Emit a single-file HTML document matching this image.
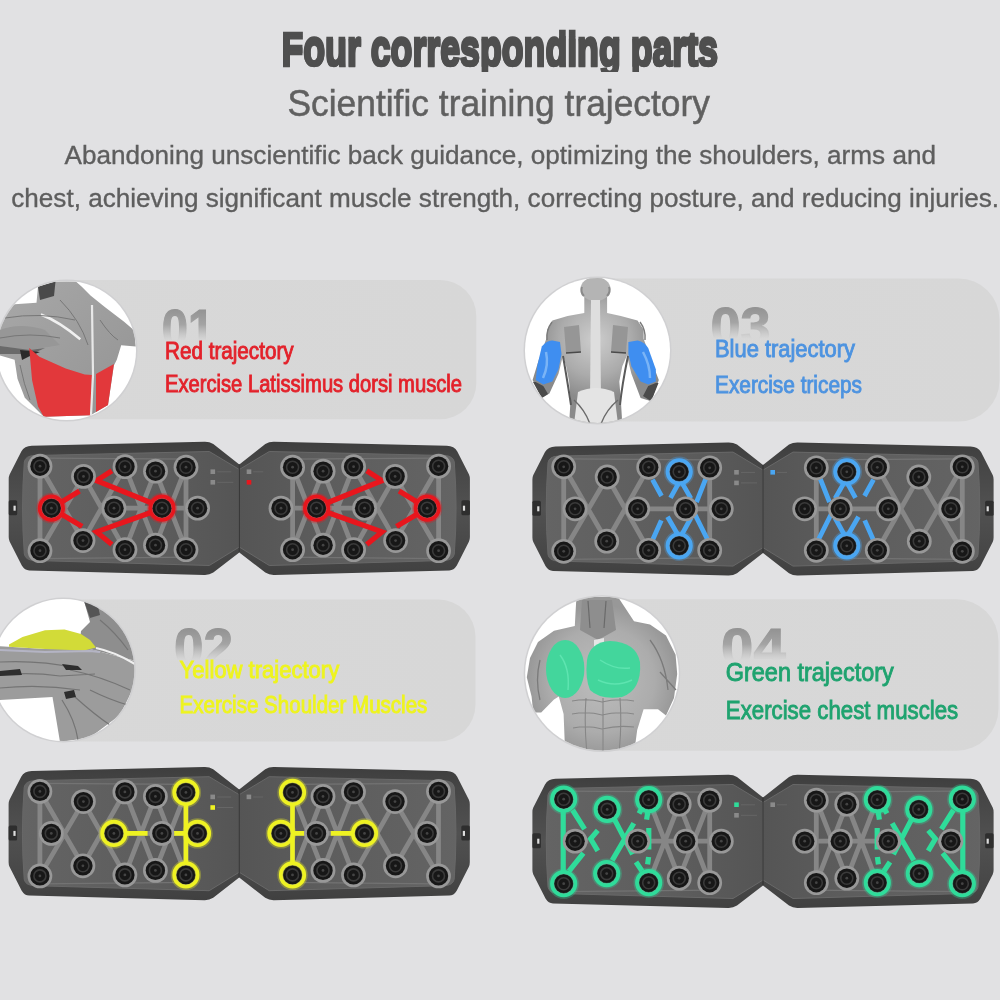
<!DOCTYPE html>
<html><head><meta charset="utf-8"><style>
html,body{margin:0;padding:0;background:#e1e1e3;}
body{width:1000px;height:1000px;overflow:hidden;}
svg{display:block;font-family:"Liberation Sans",sans-serif;filter:blur(0.6px);}
</style></head><body>
<svg width="1000" height="1000" viewBox="0 0 1000 1000">

<defs>
<linearGradient id="pillg" x1="0" y1="0" x2="1" y2="0">
  <stop offset="0" stop-color="#d8d8d8"/><stop offset="1" stop-color="#d7d7d7"/>
</linearGradient>
<linearGradient id="innerg" gradientUnits="userSpaceOnUse" x1="-220" y1="0" x2="0" y2="0">
  <stop offset="0" stop-color="#646464"/><stop offset="0.6" stop-color="#5d5d5d"/><stop offset="1" stop-color="#555555"/>
</linearGradient>
<linearGradient id="rimg" gradientUnits="userSpaceOnUse" x1="0" y1="-67" x2="0" y2="67">
  <stop offset="0" stop-color="#3e3e3e"/><stop offset="0.15" stop-color="#454545"/><stop offset="0.5" stop-color="#515151"/><stop offset="0.85" stop-color="#464646"/><stop offset="1" stop-color="#404040"/>
</linearGradient>
<linearGradient id="musg" x1="0" y1="0" x2="1" y2="1">
  <stop offset="0" stop-color="#a8a8a8"/><stop offset="1" stop-color="#939393"/>
</linearGradient>
<linearGradient id="musg3" x1="0" y1="0" x2="0" y2="1">
  <stop offset="0" stop-color="#b8b8b8"/><stop offset="1" stop-color="#9a9a9a"/>
</linearGradient>
<radialGradient id="torso3" cx="595" cy="340" r="60" gradientUnits="userSpaceOnUse">
  <stop offset="0" stop-color="#cdcdcd"/><stop offset="0.6" stop-color="#ababab"/><stop offset="1" stop-color="#8a8a8a"/>
</radialGradient>
<radialGradient id="torso4" cx="602" cy="680" r="75" gradientUnits="userSpaceOnUse">
  <stop offset="0" stop-color="#bdbdbd"/><stop offset="0.7" stop-color="#acacac"/><stop offset="1" stop-color="#989898"/>
</radialGradient>
<linearGradient id="numg" x1="0" y1="0" x2="0" y2="1">
  <stop offset="0" stop-color="#868686"/><stop offset="0.45" stop-color="#a4a4a4"/><stop offset="0.72" stop-color="#d8d8d8" stop-opacity="0.6"/><stop offset="0.85" stop-color="#dadada" stop-opacity="0"/>
</linearGradient>
</defs>

<rect width="1000" height="1000" fill="#e1e1e3"/>
<clipPath id="tA"><rect x="0" y="0" width="1000" height="72"/></clipPath>
<clipPath id="tB"><rect x="0" y="36" width="1000" height="30.8"/></clipPath>
<g clip-path="url(#tA)"><text x="281.5" y="66.3" textLength="436.5" lengthAdjust="spacingAndGlyphs" font-size="47.5" fill="#4f4f4f" font-weight="bold" stroke="#4f4f4f" stroke-width="2.3">Four corresponding parts</text></g>
<g clip-path="url(#tB)"><g transform="translate(0,66.3) scale(1,1.12) translate(0,-66.3)"><text x="281.5" y="66.3" textLength="436.5" lengthAdjust="spacingAndGlyphs" font-size="47.5" fill="#4f4f4f" font-weight="bold" stroke="#4f4f4f" stroke-width="2.3">Four corresponding parts</text></g></g>
<text x="287.5" y="116.3" textLength="422.5" lengthAdjust="spacingAndGlyphs" font-size="37.5" fill="#606060" font-weight="normal" stroke="#606060" stroke-width="0.5">Scientific training trajectory</text>
<text x="64.5" y="164.4" textLength="871.5" lengthAdjust="spacingAndGlyphs" font-size="26.6" fill="#5e5e5e" font-weight="normal" stroke="#5e5e5e" stroke-width="0.35">Abandoning unscientific back guidance, optimizing the shoulders, arms and</text>
<text x="11.3" y="207" textLength="987.7" lengthAdjust="spacingAndGlyphs" font-size="26.6" fill="#5e5e5e" font-weight="normal" stroke="#5e5e5e" stroke-width="0.35">chest, achieving significant muscle strength, correcting posture, and reducing injuries.</text>
<rect x="40" y="280" width="436.3" height="139.2" rx="36" ry="36" fill="url(#pillg)"/>
<rect x="560" y="278.4" width="439.5" height="143.20000000000005" rx="41" ry="41" fill="url(#pillg)"/>
<rect x="40" y="599.6" width="435.5" height="142.0" rx="37" ry="37" fill="url(#pillg)"/>
<rect x="560" y="599.2" width="438.5" height="151.5999999999999" rx="42" ry="42" fill="url(#pillg)"/>
<clipPath id="cc1"><circle cx="66.5" cy="350.5" r="69.5"/></clipPath><circle cx="66.5" cy="350.5" r="71.0" fill="#d0d0d2"/><circle cx="66.5" cy="350.5" r="69.5" fill="#ffffff"/><g clip-path="url(#cc1)">
<path d="M0,307.2 L14.6,304.3 L36.5,302.8 L38,286.8 L55.5,281.6 L75.9,281.6 L81.8,286.8 L90.5,295.5 L105.1,307.2 L124.1,321.8 L134.3,330.6 L135.8,346.6 L121.2,345.2 L116.8,359.8 L113.9,365.6 L108,405 L90.5,415.2 L43.8,416.7 L33.6,406.5 L24.8,397.7 L17.5,378.7 L14.6,359.8 L0,355.4 Z" fill="url(#musg)"/>
<path d="M38,286.8 L55.5,281.6 L54,296 L40,300 Z" fill="#4a4a4a"/>
<path d="M0,330 Q20,322 45,330 L60,345 L30,350 L0,346 Z" fill="#979797"/>
<path d="M0,346 L30,350 L45,348 L32,354 L0,354 Z" fill="#6a6a6a"/>
<path d="M20,350 L40,352 L30,356 L22,360 Z" fill="#2a2a2a"/>
<path d="M29.2,348.1 L39.4,356.8 L65.7,368.5 L84.7,374.4 L92,375 L90.5,415.2 L43.8,416.7 L38,406.5 L32.1,380.2 Z" fill="#e2383b"/>
<path d="M96,374 L113.9,364.1 L108,405 L96,412 Z" fill="#e2383b"/>
<path d="M92,305 L93,375 L91,415" stroke="#e8e8e8" stroke-width="2.2" fill="none"/>
<path d="M40.9,314.5 Q60,322 80.3,339.3" stroke="#f0f0f0" stroke-width="2.5" fill="none"/>
<path d="M5,318 Q40,312 75,320 M0,338 Q30,332 60,338 M60,300 Q80,320 88,345 M100,320 Q110,335 118,340 M20,365 Q24,385 30,400" stroke="#777" stroke-width="1" fill="none"/>
</g>
<clipPath id="cc3"><circle cx="597.5" cy="350.5" r="72.5"/></clipPath><circle cx="597.5" cy="350.5" r="74.0" fill="#d0d0d2"/><circle cx="597.5" cy="350.5" r="72.5" fill="#ffffff"/><g clip-path="url(#cc3)">
<path d="M584.3,296 L584.3,313 L567.6,316 L552.4,320.6 L547.1,329.7 L546.3,338.8 L538.7,360.1 L532.6,379.9 L541.8,398.1 L549.4,393.6 L558.5,373.8 L563,355.6 L566.1,366.2 L569.1,381.4 L570.6,399.6 L569.1,424 L622.3,424 L620.8,399.6 L619.3,381.4 L622.3,366.2 L626.9,355.6 L631.4,373.8 L640.6,398.1 L651.2,401.2 L658.8,379.9 L651.2,360.1 L643.6,338.8 L643.6,329.7 L637.5,320.6 L620.8,316 L607.1,313 L607.1,296 Z" fill="url(#torso3)"/>
<ellipse cx="595.5" cy="289" rx="15" ry="12" fill="#b4b4b4"/>
<path d="M582,287 Q580,292 584,296 M609,287 Q611,292 607,296" stroke="#8a8a8a" stroke-width="2" fill="none"/>
<path d="M591,300 L600,300 L601,400 L590,400 Z" fill="#dedede"/>
<path d="M578,392 Q596,384 614,392 L618,424 L574,424 Z" fill="#e4e4e4"/>
<path d="M564,327 L579,325 L581,352 L566,353 Z M628,327 L613,325 L611,352 L626,353 Z" fill="#969696"/>
<path d="M566,353 L581,352 M626,353 L611,352" stroke="#4a4a4a" stroke-width="1.6"/>
<path d="M563,356 Q568,385 571,405 M628,356 Q622,385 620,405" stroke="#5a5a5a" stroke-width="2" fill="none"/>
<path d="M574,400 Q585,410 590,424 M618,400 Q606,410 601,424" stroke="#6a6a6a" stroke-width="1.4" fill="none"/>
<path d="M552,322 Q546,330 547,340 M640,322 Q646,330 645,340" stroke="#7a7a7a" stroke-width="1.4" fill="none"/>
<path d="M541.8,346.4 Q547,340 552.4,340.4 L560,341.9 L561.5,354 L558.5,369.2 L552.4,381.4 L543.3,384.4 L535.7,379.9 L537.2,366.2 Z" fill="#3f8ef0"/>
<path d="M628.4,341.9 L637.5,340.4 Q645,342 648.2,348 L655.8,369.2 L655.8,381.4 L648.2,384.4 L640.6,381.4 L631.4,366.2 L628.4,354 Z" fill="#3f8ef0"/>
<path d="M546,352 Q549,365 543,378 M643,352 Q650,365 650,378" stroke="#7ab4f6" stroke-width="2.5" fill="none"/>
<path d="M535.7,382 L543.3,386 L548,394 L541.8,398.1 L533,382 Z M655.8,383 L648.2,386 L643,396 L651.2,401.2 L658.5,383 Z" fill="#4a4a4a"/>
</g>
<clipPath id="cc2"><circle cx="63.4" cy="670" r="71"/></clipPath><circle cx="63.4" cy="670" r="72.5" fill="#d0d0d2"/><circle cx="63.4" cy="670" r="71" fill="#ffffff"/><g clip-path="url(#cc2)">
<path d="M-5,646 L45,649 L90,649 L135,661 L140,685 L135,685 L120,715 L90,737.6 L60,742 L52.5,697 L0,700 L-5,700 Z" fill="#9c9c9c"/>
<path d="M81,631 L90,622 L84,601 L97.5,604 L120,617.5 L132,640 L136,661 L90,649 L80,640 Z" fill="#8e8e8e"/>
<path d="M84,601 L97.5,604 L100,615 L90,618 Z" fill="#555"/>
<path d="M9,644.5 L22.5,637 L45,630.3 L64.5,629.5 L81,634 L90,640 L96,647.5 L84,650.5 L45,649 L9,646.8 Z" fill="#d2db38"/>
<path d="M0,650 L45,652 L90,651 L100,652" stroke="#b4b4c4" stroke-width="2" fill="none"/>
<path d="M96,648 Q115,652 135,664" stroke="#efefef" stroke-width="2.2" fill="none"/>
<path d="M0,662 Q40,660 75,668 M0,675 Q30,672 60,676 L95,674 M0,688 Q40,684 80,690 M70,670 Q100,676 130,690 M62,700 Q75,720 78,740 M75,697 Q95,715 110,725 M90,690 Q110,700 128,705 M100,620 Q115,632 128,650" stroke="#747474" stroke-width="1.2" fill="none"/>
<path d="M62,664 L78,666 L82,670 L66,670 Z M64,692 L74,690 L76,697 L66,699 Z M0,671 L20,669 L22,675 L0,676 Z" fill="#2e2e2e"/>
</g>
<clipPath id="cc4"><circle cx="602" cy="673.6" r="76.8"/></clipPath><circle cx="602" cy="673.6" r="78.3" fill="#d0d0d2"/><circle cx="602" cy="673.6" r="76.8" fill="#ffffff"/><g clip-path="url(#cc4)">
<path fill="url(#torso4)" d="M576.4,597 L618,597 L634,621.2 L650,624.4 L666,635.6 L675.6,654.8 L677.2,674 L674,698 L666,715.6 L658,709.2 L643.6,709.2 L637.2,730 L634,754 L565.2,754 L563.6,714 L558.8,696.4 L554,699.6 L541.2,712.4 L533.2,712.4 L531.6,696.4 L526.8,677.2 L530,658 L538,642 L554,630.8 L574.8,626 Z"/>
<path d="M582,600 L612,600 L616,630 L598,640 L580,630 Z" fill="#8e8e8e"/>
<path d="M588,601 L590,628 M606,601 L604,628" stroke="#6a6a6a" stroke-width="1.2"/>
<path d="M572,701 Q588,698 602,702 Q618,698 634,701 M572,714 Q588,711 602,715 Q618,711 634,714 M573,728 Q588,725 602,729 Q618,725 634,727 M603,698 L603,754 M586,698 Q584,725 587,754 M620,698 Q622,725 619,754" stroke="#878787" stroke-width="1.1" fill="none"/>
<path d="M650,640 Q665,660 668,690 M660,672 L676,690 M540,660 Q535,680 540,700" stroke="#7a7a7a" stroke-width="1.3" fill="none"/>
<path d="M594,640 L604,638 L604,690 L594,690 Z" fill="#e6e6e6"/>
<ellipse cx="565.2" cy="668.9" rx="19.2" ry="29" fill="#43d69c"/>
<path d="M587,660 Q590,642 610,641 Q636,642 640,662 Q642,690 622,697 Q600,700 590,690 Q585,678 587,660 Z" fill="#43d69c"/>
<path d="M560,655 Q570,668 568,690 M600,660 Q615,670 630,668 M598,680 Q615,688 632,680" stroke="#5ee4b0" stroke-width="1.5" fill="none"/>
</g>
<text x="161.7" y="346.7" textLength="52.5" lengthAdjust="spacingAndGlyphs" font-size="54" font-weight="bold" fill="url(#numg)" stroke="url(#numg)" stroke-width="1.2">01</text>
<text x="165" y="358.5" textLength="128.6" lengthAdjust="spacingAndGlyphs" font-size="23" fill="#e3222b" font-weight="normal" stroke="#e3222b" stroke-width="0.9">Red trajectory</text>
<text x="165" y="391.5" textLength="297" lengthAdjust="spacingAndGlyphs" font-size="23" fill="#e3222b" font-weight="normal" stroke="#e3222b" stroke-width="0.9">Exercise Latissimus dorsi muscle</text>
<text x="710.5" y="344.7" textLength="60" lengthAdjust="spacingAndGlyphs" font-size="54" font-weight="bold" fill="url(#numg)" stroke="url(#numg)" stroke-width="1.2">03</text>
<text x="715" y="356.5" textLength="140" lengthAdjust="spacingAndGlyphs" font-size="23.5" fill="#4d93e0" font-weight="normal" stroke="#4d93e0" stroke-width="0.9">Blue trajectory</text>
<text x="715" y="392.5" textLength="147" lengthAdjust="spacingAndGlyphs" font-size="23.5" fill="#4d93e0" font-weight="normal" stroke="#4d93e0" stroke-width="0.9">Exercise triceps</text>
<text x="173.9" y="666.3" textLength="59" lengthAdjust="spacingAndGlyphs" font-size="54" font-weight="bold" fill="url(#numg)" stroke="url(#numg)" stroke-width="1.2">02</text>
<text x="179.6" y="678" textLength="159.6" lengthAdjust="spacingAndGlyphs" font-size="23.5" fill="#eef41e" font-weight="normal" stroke="#eef41e" stroke-width="0.9">Yellow trajectory</text>
<text x="179.6" y="713" textLength="247.8" lengthAdjust="spacingAndGlyphs" font-size="23.5" fill="#eef41e" font-weight="normal" stroke="#eef41e" stroke-width="0.9">Exercise Shoulder Muscles</text>
<text x="721.1" y="666.3" textLength="64.6" lengthAdjust="spacingAndGlyphs" font-size="54" font-weight="bold" fill="url(#numg)" stroke="url(#numg)" stroke-width="1.2">04</text>
<text x="725.8" y="680.8" textLength="168" lengthAdjust="spacingAndGlyphs" font-size="25.5" fill="#1fa36f" font-weight="normal" stroke="#1fa36f" stroke-width="0.9">Green trajectory</text>
<text x="725.8" y="718.6" textLength="232.4" lengthAdjust="spacingAndGlyphs" font-size="25.5" fill="#1fa36f" font-weight="normal" stroke="#1fa36f" stroke-width="0.9">Exercise chest muscles</text>
<g transform="translate(239.3,508.2)"><g><path d="M0,-43.8 L-26,-64.2 Q-30,-66.6 -35,-66.4 L-207.5,-62.4 Q-215,-62.2 -218,-56.7 L-229.7,-33.7 Q-230.6,-31.7 -230.6,-29.2 L-230.6,28.8 Q-230.6,31.3 -229.7,33.3 L-217.5,57.3 Q-214.5,62.2 -210,62.2 L-35,66.8 Q-30,67.0 -26,64.4 L0,44.2 Z" fill="url(#rimg)"/>
<path d="M0,-38.7 L-30,-56.7 L-205,-52.7 Q-214,-52.2 -215,-46.2 Q-218.5,-0.2 -215,45.8 Q-214,51.8 -205,52.3 L-30,57.3 L0,38.8 Z" fill="url(#innerg)" stroke="#686868" stroke-width="1"/>
<path d="M-199.3,-50 L-48.3,-49 M-199.3,50.5 L-48.3,49" stroke="#737373" stroke-width="1.3" fill="none"/>
<path d="M-199.3,-42.0L-199.3,42.5M-199.3,-42.0L-156.3,32.4M-199.3,42.5L-155.8,-31.8M-155.8,-31.8L-114.3,41.5M-156.3,32.4L-114.3,-41.5M-114.3,-41.5L-83.8,37.0M-114.3,41.5L-83.8,-37.0M-83.8,-37.0L-53.3,41.5M-83.8,37.0L-53.3,-41.0M-53.3,-41.0L-53.3,41.5M-187.9,0L-174.7,0M-137.8,0L-41.7,0" stroke="#868686" stroke-width="4.8" fill="none"/>
<rect x="-230.6" y="-8" width="8.5" height="15" rx="1.5" fill="#2e2e2e"/><rect x="-225.8" y="-2.5" width="2.2" height="5" fill="#ddd"/></g>
<g transform="scale(-1,1)"><path d="M0,-43.8 L-26,-64.2 Q-30,-66.6 -35,-66.4 L-207.5,-62.4 Q-215,-62.2 -218,-56.7 L-229.7,-33.7 Q-230.6,-31.7 -230.6,-29.2 L-230.6,28.8 Q-230.6,31.3 -229.7,33.3 L-217.5,57.3 Q-214.5,62.2 -210,62.2 L-35,66.8 Q-30,67.0 -26,64.4 L0,44.2 Z" fill="url(#rimg)"/>
<path d="M0,-38.7 L-30,-56.7 L-205,-52.7 Q-214,-52.2 -215,-46.2 Q-218.5,-0.2 -215,45.8 Q-214,51.8 -205,52.3 L-30,57.3 L0,38.8 Z" fill="url(#innerg)" stroke="#686868" stroke-width="1"/>
<path d="M-199.3,-50 L-48.3,-49 M-199.3,50.5 L-48.3,49" stroke="#737373" stroke-width="1.3" fill="none"/>
<path d="M-199.3,-42.0L-199.3,42.5M-199.3,-42.0L-156.3,32.4M-199.3,42.5L-155.8,-31.8M-155.8,-31.8L-114.3,41.5M-156.3,32.4L-114.3,-41.5M-114.3,-41.5L-83.8,37.0M-114.3,41.5L-83.8,-37.0M-83.8,-37.0L-53.3,41.5M-83.8,37.0L-53.3,-41.0M-53.3,-41.0L-53.3,41.5M-187.9,0L-174.7,0M-137.8,0L-41.7,0" stroke="#868686" stroke-width="4.8" fill="none"/>
<rect x="-230.6" y="-8" width="8.5" height="15" rx="1.5" fill="#2e2e2e"/><rect x="-225.8" y="-2.5" width="2.2" height="5" fill="#ddd"/></g>
<line x1="0" y1="-44" x2="0" y2="44" stroke="#2f2f2f" stroke-width="1"/>
<path d="M-187.9,0.0L-159.8,-17.2M-187.9,0.0L-157.1,18.3M-127.4,-37.5L-142.7,-27.6L-85.1,-4.2M-127.4,36.3L-142.7,23.7L-86.9,3.8" stroke="#e8161d" stroke-width="5.2" fill="none" stroke-linejoin="miter" stroke-linecap="butt"/>
<g transform="scale(-1,1)"><path d="M-187.9,0.0L-159.8,-17.2M-187.9,0.0L-157.1,18.3M-127.4,-37.5L-142.7,-27.6L-85.1,-4.2M-127.4,36.3L-142.7,23.7L-86.9,3.8" stroke="#e8161d" stroke-width="5.2" fill="none" stroke-linejoin="miter" stroke-linecap="butt"/></g>
<g><circle cx="-199.3" cy="-42" r="12.4" fill="#989898"/><circle cx="-199.3" cy="-42" r="9.7" fill="#171717"/><circle cx="-199.3" cy="-42" r="6" fill="none" stroke="#3a3a3a" stroke-width="1.6"/><circle cx="-199.3" cy="-42" r="1.4" fill="#444"/>
<circle cx="-155.8" cy="-31.8" r="12.4" fill="#989898"/><circle cx="-155.8" cy="-31.8" r="9.7" fill="#171717"/><circle cx="-155.8" cy="-31.8" r="6" fill="none" stroke="#3a3a3a" stroke-width="1.6"/><circle cx="-155.8" cy="-31.8" r="1.4" fill="#444"/>
<circle cx="-114.3" cy="-41.5" r="12.4" fill="#989898"/><circle cx="-114.3" cy="-41.5" r="9.7" fill="#171717"/><circle cx="-114.3" cy="-41.5" r="6" fill="none" stroke="#3a3a3a" stroke-width="1.6"/><circle cx="-114.3" cy="-41.5" r="1.4" fill="#444"/>
<circle cx="-83.8" cy="-37" r="12.4" fill="#989898"/><circle cx="-83.8" cy="-37" r="9.7" fill="#171717"/><circle cx="-83.8" cy="-37" r="6" fill="none" stroke="#3a3a3a" stroke-width="1.6"/><circle cx="-83.8" cy="-37" r="1.4" fill="#444"/>
<circle cx="-53.3" cy="-41" r="12.4" fill="#989898"/><circle cx="-53.3" cy="-41" r="9.7" fill="#171717"/><circle cx="-53.3" cy="-41" r="6" fill="none" stroke="#3a3a3a" stroke-width="1.6"/><circle cx="-53.3" cy="-41" r="1.4" fill="#444"/>
<circle cx="-187.9" cy="0" r="12.4" fill="#989898"/><circle cx="-187.9" cy="0" r="9.7" fill="#171717"/><circle cx="-187.9" cy="0" r="6" fill="none" stroke="#3a3a3a" stroke-width="1.6"/><circle cx="-187.9" cy="0" r="1.4" fill="#444"/>
<circle cx="-125.3" cy="0" r="12.4" fill="#989898"/><circle cx="-125.3" cy="0" r="9.7" fill="#171717"/><circle cx="-125.3" cy="0" r="6" fill="none" stroke="#3a3a3a" stroke-width="1.6"/><circle cx="-125.3" cy="0" r="1.4" fill="#444"/>
<circle cx="-77.3" cy="0" r="12.4" fill="#989898"/><circle cx="-77.3" cy="0" r="9.7" fill="#171717"/><circle cx="-77.3" cy="0" r="6" fill="none" stroke="#3a3a3a" stroke-width="1.6"/><circle cx="-77.3" cy="0" r="1.4" fill="#444"/>
<circle cx="-41.7" cy="0" r="12.4" fill="#989898"/><circle cx="-41.7" cy="0" r="9.7" fill="#171717"/><circle cx="-41.7" cy="0" r="6" fill="none" stroke="#3a3a3a" stroke-width="1.6"/><circle cx="-41.7" cy="0" r="1.4" fill="#444"/>
<circle cx="-199.3" cy="42.5" r="12.4" fill="#989898"/><circle cx="-199.3" cy="42.5" r="9.7" fill="#171717"/><circle cx="-199.3" cy="42.5" r="6" fill="none" stroke="#3a3a3a" stroke-width="1.6"/><circle cx="-199.3" cy="42.5" r="1.4" fill="#444"/>
<circle cx="-156.3" cy="32.4" r="12.4" fill="#989898"/><circle cx="-156.3" cy="32.4" r="9.7" fill="#171717"/><circle cx="-156.3" cy="32.4" r="6" fill="none" stroke="#3a3a3a" stroke-width="1.6"/><circle cx="-156.3" cy="32.4" r="1.4" fill="#444"/>
<circle cx="-114.3" cy="41.5" r="12.4" fill="#989898"/><circle cx="-114.3" cy="41.5" r="9.7" fill="#171717"/><circle cx="-114.3" cy="41.5" r="6" fill="none" stroke="#3a3a3a" stroke-width="1.6"/><circle cx="-114.3" cy="41.5" r="1.4" fill="#444"/>
<circle cx="-83.8" cy="37" r="12.4" fill="#989898"/><circle cx="-83.8" cy="37" r="9.7" fill="#171717"/><circle cx="-83.8" cy="37" r="6" fill="none" stroke="#3a3a3a" stroke-width="1.6"/><circle cx="-83.8" cy="37" r="1.4" fill="#444"/>
<circle cx="-53.3" cy="41.5" r="12.4" fill="#989898"/><circle cx="-53.3" cy="41.5" r="9.7" fill="#171717"/><circle cx="-53.3" cy="41.5" r="6" fill="none" stroke="#3a3a3a" stroke-width="1.6"/><circle cx="-53.3" cy="41.5" r="1.4" fill="#444"/></g>
<g transform="scale(-1,1)"><circle cx="-199.3" cy="-42" r="12.4" fill="#989898"/><circle cx="-199.3" cy="-42" r="9.7" fill="#171717"/><circle cx="-199.3" cy="-42" r="6" fill="none" stroke="#3a3a3a" stroke-width="1.6"/><circle cx="-199.3" cy="-42" r="1.4" fill="#444"/>
<circle cx="-155.8" cy="-31.8" r="12.4" fill="#989898"/><circle cx="-155.8" cy="-31.8" r="9.7" fill="#171717"/><circle cx="-155.8" cy="-31.8" r="6" fill="none" stroke="#3a3a3a" stroke-width="1.6"/><circle cx="-155.8" cy="-31.8" r="1.4" fill="#444"/>
<circle cx="-114.3" cy="-41.5" r="12.4" fill="#989898"/><circle cx="-114.3" cy="-41.5" r="9.7" fill="#171717"/><circle cx="-114.3" cy="-41.5" r="6" fill="none" stroke="#3a3a3a" stroke-width="1.6"/><circle cx="-114.3" cy="-41.5" r="1.4" fill="#444"/>
<circle cx="-83.8" cy="-37" r="12.4" fill="#989898"/><circle cx="-83.8" cy="-37" r="9.7" fill="#171717"/><circle cx="-83.8" cy="-37" r="6" fill="none" stroke="#3a3a3a" stroke-width="1.6"/><circle cx="-83.8" cy="-37" r="1.4" fill="#444"/>
<circle cx="-53.3" cy="-41" r="12.4" fill="#989898"/><circle cx="-53.3" cy="-41" r="9.7" fill="#171717"/><circle cx="-53.3" cy="-41" r="6" fill="none" stroke="#3a3a3a" stroke-width="1.6"/><circle cx="-53.3" cy="-41" r="1.4" fill="#444"/>
<circle cx="-187.9" cy="0" r="12.4" fill="#989898"/><circle cx="-187.9" cy="0" r="9.7" fill="#171717"/><circle cx="-187.9" cy="0" r="6" fill="none" stroke="#3a3a3a" stroke-width="1.6"/><circle cx="-187.9" cy="0" r="1.4" fill="#444"/>
<circle cx="-125.3" cy="0" r="12.4" fill="#989898"/><circle cx="-125.3" cy="0" r="9.7" fill="#171717"/><circle cx="-125.3" cy="0" r="6" fill="none" stroke="#3a3a3a" stroke-width="1.6"/><circle cx="-125.3" cy="0" r="1.4" fill="#444"/>
<circle cx="-77.3" cy="0" r="12.4" fill="#989898"/><circle cx="-77.3" cy="0" r="9.7" fill="#171717"/><circle cx="-77.3" cy="0" r="6" fill="none" stroke="#3a3a3a" stroke-width="1.6"/><circle cx="-77.3" cy="0" r="1.4" fill="#444"/>
<circle cx="-41.7" cy="0" r="12.4" fill="#989898"/><circle cx="-41.7" cy="0" r="9.7" fill="#171717"/><circle cx="-41.7" cy="0" r="6" fill="none" stroke="#3a3a3a" stroke-width="1.6"/><circle cx="-41.7" cy="0" r="1.4" fill="#444"/>
<circle cx="-199.3" cy="42.5" r="12.4" fill="#989898"/><circle cx="-199.3" cy="42.5" r="9.7" fill="#171717"/><circle cx="-199.3" cy="42.5" r="6" fill="none" stroke="#3a3a3a" stroke-width="1.6"/><circle cx="-199.3" cy="42.5" r="1.4" fill="#444"/>
<circle cx="-156.3" cy="32.4" r="12.4" fill="#989898"/><circle cx="-156.3" cy="32.4" r="9.7" fill="#171717"/><circle cx="-156.3" cy="32.4" r="6" fill="none" stroke="#3a3a3a" stroke-width="1.6"/><circle cx="-156.3" cy="32.4" r="1.4" fill="#444"/>
<circle cx="-114.3" cy="41.5" r="12.4" fill="#989898"/><circle cx="-114.3" cy="41.5" r="9.7" fill="#171717"/><circle cx="-114.3" cy="41.5" r="6" fill="none" stroke="#3a3a3a" stroke-width="1.6"/><circle cx="-114.3" cy="41.5" r="1.4" fill="#444"/>
<circle cx="-83.8" cy="37" r="12.4" fill="#989898"/><circle cx="-83.8" cy="37" r="9.7" fill="#171717"/><circle cx="-83.8" cy="37" r="6" fill="none" stroke="#3a3a3a" stroke-width="1.6"/><circle cx="-83.8" cy="37" r="1.4" fill="#444"/>
<circle cx="-53.3" cy="41.5" r="12.4" fill="#989898"/><circle cx="-53.3" cy="41.5" r="9.7" fill="#171717"/><circle cx="-53.3" cy="41.5" r="6" fill="none" stroke="#3a3a3a" stroke-width="1.6"/><circle cx="-53.3" cy="41.5" r="1.4" fill="#444"/></g>
<circle cx="-187.9" cy="0" r="12.2" fill="none" stroke="#e8161d" stroke-width="6" stroke-opacity="0.3"/><circle cx="-187.9" cy="0" r="11.8" fill="none" stroke="#e8161d" stroke-width="3.6"/><circle cx="-77.3" cy="0" r="12.2" fill="none" stroke="#e8161d" stroke-width="6" stroke-opacity="0.3"/><circle cx="-77.3" cy="0" r="11.8" fill="none" stroke="#e8161d" stroke-width="3.6"/>
<g transform="scale(-1,1)"><circle cx="-187.9" cy="0" r="12.2" fill="none" stroke="#e8161d" stroke-width="6" stroke-opacity="0.3"/><circle cx="-187.9" cy="0" r="11.8" fill="none" stroke="#e8161d" stroke-width="3.6"/><circle cx="-77.3" cy="0" r="12.2" fill="none" stroke="#e8161d" stroke-width="6" stroke-opacity="0.3"/><circle cx="-77.3" cy="0" r="11.8" fill="none" stroke="#e8161d" stroke-width="3.6"/></g>
<rect x="-28.8" y="-38.8" width="4.6" height="4.6" fill="#8a8a8a"/>
<rect x="-28.8" y="-28.2" width="4.6" height="4.6" fill="#8a8a8a"/>
<line x1="-22" y1="-36.4" x2="-8" y2="-36.4" stroke="#666" stroke-width="1"/>
<line x1="-22" y1="-25.9" x2="-6" y2="-25.9" stroke="#666" stroke-width="1"/>
<rect x="7.4" y="-38.8" width="4.6" height="4.6" fill="#8a8a8a"/>
<line x1="14" y1="-36.4" x2="24" y2="-36.4" stroke="#666" stroke-width="1"/>
<rect x="7.4" y="-28.2" width="4.6" height="4.6" fill="#e8161d"/></g>
<g transform="translate(763,508.8)"><g><path d="M0,-43.8 L-26,-64.2 Q-30,-66.6 -35,-66.4 L-207.5,-62.4 Q-215,-62.2 -218,-56.7 L-229.7,-33.7 Q-230.6,-31.7 -230.6,-29.2 L-230.6,28.8 Q-230.6,31.3 -229.7,33.3 L-217.5,57.3 Q-214.5,62.2 -210,62.2 L-35,66.8 Q-30,67.0 -26,64.4 L0,44.2 Z" fill="url(#rimg)"/>
<path d="M0,-38.7 L-30,-56.7 L-205,-52.7 Q-214,-52.2 -215,-46.2 Q-218.5,-0.2 -215,45.8 Q-214,51.8 -205,52.3 L-30,57.3 L0,38.8 Z" fill="url(#innerg)" stroke="#686868" stroke-width="1"/>
<path d="M-199.3,-50 L-48.3,-49 M-199.3,50.5 L-48.3,49" stroke="#737373" stroke-width="1.3" fill="none"/>
<path d="M-199.3,-42.0L-199.3,42.5M-199.3,-42.0L-156.3,32.4M-199.3,42.5L-155.8,-31.8M-155.8,-31.8L-114.3,41.5M-156.3,32.4L-114.3,-41.5M-53.3,-41.0L-53.3,41.5M-187.9,0L-174.7,0M-137.8,0L-41.7,0" stroke="#868686" stroke-width="4.8" fill="none"/>
<rect x="-230.6" y="-8" width="8.5" height="15" rx="1.5" fill="#2e2e2e"/><rect x="-225.8" y="-2.5" width="2.2" height="5" fill="#ddd"/></g>
<g transform="scale(-1,1)"><path d="M0,-43.8 L-26,-64.2 Q-30,-66.6 -35,-66.4 L-207.5,-62.4 Q-215,-62.2 -218,-56.7 L-229.7,-33.7 Q-230.6,-31.7 -230.6,-29.2 L-230.6,28.8 Q-230.6,31.3 -229.7,33.3 L-217.5,57.3 Q-214.5,62.2 -210,62.2 L-35,66.8 Q-30,67.0 -26,64.4 L0,44.2 Z" fill="url(#rimg)"/>
<path d="M0,-38.7 L-30,-56.7 L-205,-52.7 Q-214,-52.2 -215,-46.2 Q-218.5,-0.2 -215,45.8 Q-214,51.8 -205,52.3 L-30,57.3 L0,38.8 Z" fill="url(#innerg)" stroke="#686868" stroke-width="1"/>
<path d="M-199.3,-50 L-48.3,-49 M-199.3,50.5 L-48.3,49" stroke="#737373" stroke-width="1.3" fill="none"/>
<path d="M-199.3,-42.0L-199.3,42.5M-199.3,-42.0L-156.3,32.4M-199.3,42.5L-155.8,-31.8M-155.8,-31.8L-114.3,41.5M-156.3,32.4L-114.3,-41.5M-53.3,-41.0L-53.3,41.5M-187.9,0L-174.7,0M-137.8,0L-41.7,0" stroke="#868686" stroke-width="4.8" fill="none"/>
<rect x="-230.6" y="-8" width="8.5" height="15" rx="1.5" fill="#2e2e2e"/><rect x="-225.8" y="-2.5" width="2.2" height="5" fill="#ddd"/></g>
<line x1="0" y1="-44" x2="0" y2="44" stroke="#2f2f2f" stroke-width="1"/>
<path d="M-110.5,-29.2L-101.5,-12.8M-92.5,-11.0L-84.1,-26.2M-81.1,-26.2L-72.1,-10.4M-57.3,-29.9L-66.5,-6.7M-110.3,31.0L-101.7,11.6M-95.5,8.0L-85.3,25.6M-81.1,25.6L-72.1,9.2M-68.4,5.0L-55.4,31.0" stroke="#4aa6f2" stroke-width="4.8" fill="none" stroke-linejoin="miter" stroke-linecap="butt"/>
<g transform="scale(-1,1)"><path d="M-110.5,-29.2L-101.5,-12.8M-92.5,-11.0L-84.1,-26.2M-81.1,-26.2L-72.1,-10.4M-57.3,-29.9L-66.5,-6.7M-110.3,31.0L-101.7,11.6M-95.5,8.0L-85.3,25.6M-81.1,25.6L-72.1,9.2M-68.4,5.0L-55.4,31.0" stroke="#4aa6f2" stroke-width="4.8" fill="none" stroke-linejoin="miter" stroke-linecap="butt"/></g>
<g><circle cx="-199.3" cy="-42" r="12.4" fill="#989898"/><circle cx="-199.3" cy="-42" r="9.7" fill="#171717"/><circle cx="-199.3" cy="-42" r="6" fill="none" stroke="#3a3a3a" stroke-width="1.6"/><circle cx="-199.3" cy="-42" r="1.4" fill="#444"/>
<circle cx="-155.8" cy="-31.8" r="12.4" fill="#989898"/><circle cx="-155.8" cy="-31.8" r="9.7" fill="#171717"/><circle cx="-155.8" cy="-31.8" r="6" fill="none" stroke="#3a3a3a" stroke-width="1.6"/><circle cx="-155.8" cy="-31.8" r="1.4" fill="#444"/>
<circle cx="-114.3" cy="-41.5" r="12.4" fill="#989898"/><circle cx="-114.3" cy="-41.5" r="9.7" fill="#171717"/><circle cx="-114.3" cy="-41.5" r="6" fill="none" stroke="#3a3a3a" stroke-width="1.6"/><circle cx="-114.3" cy="-41.5" r="1.4" fill="#444"/>
<circle cx="-83.8" cy="-37" r="12.4" fill="#989898"/><circle cx="-83.8" cy="-37" r="9.7" fill="#171717"/><circle cx="-83.8" cy="-37" r="6" fill="none" stroke="#3a3a3a" stroke-width="1.6"/><circle cx="-83.8" cy="-37" r="1.4" fill="#444"/>
<circle cx="-53.3" cy="-41" r="12.4" fill="#989898"/><circle cx="-53.3" cy="-41" r="9.7" fill="#171717"/><circle cx="-53.3" cy="-41" r="6" fill="none" stroke="#3a3a3a" stroke-width="1.6"/><circle cx="-53.3" cy="-41" r="1.4" fill="#444"/>
<circle cx="-187.9" cy="0" r="12.4" fill="#989898"/><circle cx="-187.9" cy="0" r="9.7" fill="#171717"/><circle cx="-187.9" cy="0" r="6" fill="none" stroke="#3a3a3a" stroke-width="1.6"/><circle cx="-187.9" cy="0" r="1.4" fill="#444"/>
<circle cx="-125.3" cy="0" r="12.4" fill="#989898"/><circle cx="-125.3" cy="0" r="9.7" fill="#171717"/><circle cx="-125.3" cy="0" r="6" fill="none" stroke="#3a3a3a" stroke-width="1.6"/><circle cx="-125.3" cy="0" r="1.4" fill="#444"/>
<circle cx="-77.3" cy="0" r="12.4" fill="#989898"/><circle cx="-77.3" cy="0" r="9.7" fill="#171717"/><circle cx="-77.3" cy="0" r="6" fill="none" stroke="#3a3a3a" stroke-width="1.6"/><circle cx="-77.3" cy="0" r="1.4" fill="#444"/>
<circle cx="-41.7" cy="0" r="12.4" fill="#989898"/><circle cx="-41.7" cy="0" r="9.7" fill="#171717"/><circle cx="-41.7" cy="0" r="6" fill="none" stroke="#3a3a3a" stroke-width="1.6"/><circle cx="-41.7" cy="0" r="1.4" fill="#444"/>
<circle cx="-199.3" cy="42.5" r="12.4" fill="#989898"/><circle cx="-199.3" cy="42.5" r="9.7" fill="#171717"/><circle cx="-199.3" cy="42.5" r="6" fill="none" stroke="#3a3a3a" stroke-width="1.6"/><circle cx="-199.3" cy="42.5" r="1.4" fill="#444"/>
<circle cx="-156.3" cy="32.4" r="12.4" fill="#989898"/><circle cx="-156.3" cy="32.4" r="9.7" fill="#171717"/><circle cx="-156.3" cy="32.4" r="6" fill="none" stroke="#3a3a3a" stroke-width="1.6"/><circle cx="-156.3" cy="32.4" r="1.4" fill="#444"/>
<circle cx="-114.3" cy="41.5" r="12.4" fill="#989898"/><circle cx="-114.3" cy="41.5" r="9.7" fill="#171717"/><circle cx="-114.3" cy="41.5" r="6" fill="none" stroke="#3a3a3a" stroke-width="1.6"/><circle cx="-114.3" cy="41.5" r="1.4" fill="#444"/>
<circle cx="-83.8" cy="37" r="12.4" fill="#989898"/><circle cx="-83.8" cy="37" r="9.7" fill="#171717"/><circle cx="-83.8" cy="37" r="6" fill="none" stroke="#3a3a3a" stroke-width="1.6"/><circle cx="-83.8" cy="37" r="1.4" fill="#444"/>
<circle cx="-53.3" cy="41.5" r="12.4" fill="#989898"/><circle cx="-53.3" cy="41.5" r="9.7" fill="#171717"/><circle cx="-53.3" cy="41.5" r="6" fill="none" stroke="#3a3a3a" stroke-width="1.6"/><circle cx="-53.3" cy="41.5" r="1.4" fill="#444"/></g>
<g transform="scale(-1,1)"><circle cx="-199.3" cy="-42" r="12.4" fill="#989898"/><circle cx="-199.3" cy="-42" r="9.7" fill="#171717"/><circle cx="-199.3" cy="-42" r="6" fill="none" stroke="#3a3a3a" stroke-width="1.6"/><circle cx="-199.3" cy="-42" r="1.4" fill="#444"/>
<circle cx="-155.8" cy="-31.8" r="12.4" fill="#989898"/><circle cx="-155.8" cy="-31.8" r="9.7" fill="#171717"/><circle cx="-155.8" cy="-31.8" r="6" fill="none" stroke="#3a3a3a" stroke-width="1.6"/><circle cx="-155.8" cy="-31.8" r="1.4" fill="#444"/>
<circle cx="-114.3" cy="-41.5" r="12.4" fill="#989898"/><circle cx="-114.3" cy="-41.5" r="9.7" fill="#171717"/><circle cx="-114.3" cy="-41.5" r="6" fill="none" stroke="#3a3a3a" stroke-width="1.6"/><circle cx="-114.3" cy="-41.5" r="1.4" fill="#444"/>
<circle cx="-83.8" cy="-37" r="12.4" fill="#989898"/><circle cx="-83.8" cy="-37" r="9.7" fill="#171717"/><circle cx="-83.8" cy="-37" r="6" fill="none" stroke="#3a3a3a" stroke-width="1.6"/><circle cx="-83.8" cy="-37" r="1.4" fill="#444"/>
<circle cx="-53.3" cy="-41" r="12.4" fill="#989898"/><circle cx="-53.3" cy="-41" r="9.7" fill="#171717"/><circle cx="-53.3" cy="-41" r="6" fill="none" stroke="#3a3a3a" stroke-width="1.6"/><circle cx="-53.3" cy="-41" r="1.4" fill="#444"/>
<circle cx="-187.9" cy="0" r="12.4" fill="#989898"/><circle cx="-187.9" cy="0" r="9.7" fill="#171717"/><circle cx="-187.9" cy="0" r="6" fill="none" stroke="#3a3a3a" stroke-width="1.6"/><circle cx="-187.9" cy="0" r="1.4" fill="#444"/>
<circle cx="-125.3" cy="0" r="12.4" fill="#989898"/><circle cx="-125.3" cy="0" r="9.7" fill="#171717"/><circle cx="-125.3" cy="0" r="6" fill="none" stroke="#3a3a3a" stroke-width="1.6"/><circle cx="-125.3" cy="0" r="1.4" fill="#444"/>
<circle cx="-77.3" cy="0" r="12.4" fill="#989898"/><circle cx="-77.3" cy="0" r="9.7" fill="#171717"/><circle cx="-77.3" cy="0" r="6" fill="none" stroke="#3a3a3a" stroke-width="1.6"/><circle cx="-77.3" cy="0" r="1.4" fill="#444"/>
<circle cx="-41.7" cy="0" r="12.4" fill="#989898"/><circle cx="-41.7" cy="0" r="9.7" fill="#171717"/><circle cx="-41.7" cy="0" r="6" fill="none" stroke="#3a3a3a" stroke-width="1.6"/><circle cx="-41.7" cy="0" r="1.4" fill="#444"/>
<circle cx="-199.3" cy="42.5" r="12.4" fill="#989898"/><circle cx="-199.3" cy="42.5" r="9.7" fill="#171717"/><circle cx="-199.3" cy="42.5" r="6" fill="none" stroke="#3a3a3a" stroke-width="1.6"/><circle cx="-199.3" cy="42.5" r="1.4" fill="#444"/>
<circle cx="-156.3" cy="32.4" r="12.4" fill="#989898"/><circle cx="-156.3" cy="32.4" r="9.7" fill="#171717"/><circle cx="-156.3" cy="32.4" r="6" fill="none" stroke="#3a3a3a" stroke-width="1.6"/><circle cx="-156.3" cy="32.4" r="1.4" fill="#444"/>
<circle cx="-114.3" cy="41.5" r="12.4" fill="#989898"/><circle cx="-114.3" cy="41.5" r="9.7" fill="#171717"/><circle cx="-114.3" cy="41.5" r="6" fill="none" stroke="#3a3a3a" stroke-width="1.6"/><circle cx="-114.3" cy="41.5" r="1.4" fill="#444"/>
<circle cx="-83.8" cy="37" r="12.4" fill="#989898"/><circle cx="-83.8" cy="37" r="9.7" fill="#171717"/><circle cx="-83.8" cy="37" r="6" fill="none" stroke="#3a3a3a" stroke-width="1.6"/><circle cx="-83.8" cy="37" r="1.4" fill="#444"/>
<circle cx="-53.3" cy="41.5" r="12.4" fill="#989898"/><circle cx="-53.3" cy="41.5" r="9.7" fill="#171717"/><circle cx="-53.3" cy="41.5" r="6" fill="none" stroke="#3a3a3a" stroke-width="1.6"/><circle cx="-53.3" cy="41.5" r="1.4" fill="#444"/></g>
<circle cx="-83.8" cy="-37" r="12.2" fill="none" stroke="#4aa6f2" stroke-width="6" stroke-opacity="0.3"/><circle cx="-83.8" cy="-37" r="11.8" fill="none" stroke="#4aa6f2" stroke-width="3.6"/><circle cx="-83.8" cy="37" r="12.2" fill="none" stroke="#4aa6f2" stroke-width="6" stroke-opacity="0.3"/><circle cx="-83.8" cy="37" r="11.8" fill="none" stroke="#4aa6f2" stroke-width="3.6"/>
<g transform="scale(-1,1)"><circle cx="-83.8" cy="-37" r="12.2" fill="none" stroke="#4aa6f2" stroke-width="6" stroke-opacity="0.3"/><circle cx="-83.8" cy="-37" r="11.8" fill="none" stroke="#4aa6f2" stroke-width="3.6"/><circle cx="-83.8" cy="37" r="12.2" fill="none" stroke="#4aa6f2" stroke-width="6" stroke-opacity="0.3"/><circle cx="-83.8" cy="37" r="11.8" fill="none" stroke="#4aa6f2" stroke-width="3.6"/></g>
<rect x="-28.8" y="-38.8" width="4.6" height="4.6" fill="#8a8a8a"/>
<rect x="-28.8" y="-28.2" width="4.6" height="4.6" fill="#8a8a8a"/>
<line x1="-22" y1="-36.4" x2="-8" y2="-36.4" stroke="#666" stroke-width="1"/>
<line x1="-22" y1="-25.9" x2="-6" y2="-25.9" stroke="#666" stroke-width="1"/>
<rect x="7.4" y="-38.8" width="4.6" height="4.6" fill="#4aa6f2"/>
<line x1="14" y1="-36.4" x2="24" y2="-36.4" stroke="#666" stroke-width="1"/></g>
<g transform="translate(239.2,833.4)"><g><path d="M0,-43.8 L-26,-64.2 Q-30,-66.6 -35,-66.4 L-207.5,-62.4 Q-215,-62.2 -218,-56.7 L-229.7,-33.7 Q-230.6,-31.7 -230.6,-29.2 L-230.6,28.8 Q-230.6,31.3 -229.7,33.3 L-217.5,57.3 Q-214.5,62.2 -210,62.2 L-35,66.8 Q-30,67.0 -26,64.4 L0,44.2 Z" fill="url(#rimg)"/>
<path d="M0,-38.7 L-30,-56.7 L-205,-52.7 Q-214,-52.2 -215,-46.2 Q-218.5,-0.2 -215,45.8 Q-214,51.8 -205,52.3 L-30,57.3 L0,38.8 Z" fill="url(#innerg)" stroke="#686868" stroke-width="1"/>
<path d="M-199.3,-50 L-48.3,-49 M-199.3,50.5 L-48.3,49" stroke="#737373" stroke-width="1.3" fill="none"/>
<path d="M-199.3,-42.0L-199.3,42.5M-199.3,-42.0L-156.3,32.4M-199.3,42.5L-155.8,-31.8M-155.8,-31.8L-114.3,41.5M-156.3,32.4L-114.3,-41.5M-114.3,-41.5L-83.8,37.0M-114.3,41.5L-83.8,-37.0M-83.8,-37.0L-53.3,41.5M-83.8,37.0L-53.3,-41.0M-53.3,-41.0L-53.3,41.5M-187.9,0L-174.7,0M-137.8,0L-41.7,0" stroke="#868686" stroke-width="4.8" fill="none"/>
<rect x="-230.6" y="-8" width="8.5" height="15" rx="1.5" fill="#2e2e2e"/><rect x="-225.8" y="-2.5" width="2.2" height="5" fill="#ddd"/></g>
<g transform="scale(-1,1)"><path d="M0,-43.8 L-26,-64.2 Q-30,-66.6 -35,-66.4 L-207.5,-62.4 Q-215,-62.2 -218,-56.7 L-229.7,-33.7 Q-230.6,-31.7 -230.6,-29.2 L-230.6,28.8 Q-230.6,31.3 -229.7,33.3 L-217.5,57.3 Q-214.5,62.2 -210,62.2 L-35,66.8 Q-30,67.0 -26,64.4 L0,44.2 Z" fill="url(#rimg)"/>
<path d="M0,-38.7 L-30,-56.7 L-205,-52.7 Q-214,-52.2 -215,-46.2 Q-218.5,-0.2 -215,45.8 Q-214,51.8 -205,52.3 L-30,57.3 L0,38.8 Z" fill="url(#innerg)" stroke="#686868" stroke-width="1"/>
<path d="M-199.3,-50 L-48.3,-49 M-199.3,50.5 L-48.3,49" stroke="#737373" stroke-width="1.3" fill="none"/>
<path d="M-199.3,-42.0L-199.3,42.5M-199.3,-42.0L-156.3,32.4M-199.3,42.5L-155.8,-31.8M-155.8,-31.8L-114.3,41.5M-156.3,32.4L-114.3,-41.5M-114.3,-41.5L-83.8,37.0M-114.3,41.5L-83.8,-37.0M-83.8,-37.0L-53.3,41.5M-83.8,37.0L-53.3,-41.0M-53.3,-41.0L-53.3,41.5M-187.9,0L-174.7,0M-137.8,0L-41.7,0" stroke="#868686" stroke-width="4.8" fill="none"/>
<rect x="-230.6" y="-8" width="8.5" height="15" rx="1.5" fill="#2e2e2e"/><rect x="-225.8" y="-2.5" width="2.2" height="5" fill="#ddd"/></g>
<line x1="0" y1="-44" x2="0" y2="44" stroke="#2f2f2f" stroke-width="1"/>
<path d="M-53.3,-41.0L-53.3,41.5M-125.3,0.0L-91.6,0.0M-65.2,0.0L-41.7,0.0" stroke="#eef222" stroke-width="4.6" fill="none" stroke-linejoin="miter" stroke-linecap="butt"/>
<g transform="scale(-1,1)"><path d="M-53.3,-41.0L-53.3,41.5M-125.3,0.0L-91.6,0.0M-65.2,0.0L-41.7,0.0" stroke="#eef222" stroke-width="4.6" fill="none" stroke-linejoin="miter" stroke-linecap="butt"/></g>
<g><circle cx="-199.3" cy="-42" r="12.4" fill="#989898"/><circle cx="-199.3" cy="-42" r="9.7" fill="#171717"/><circle cx="-199.3" cy="-42" r="6" fill="none" stroke="#3a3a3a" stroke-width="1.6"/><circle cx="-199.3" cy="-42" r="1.4" fill="#444"/>
<circle cx="-155.8" cy="-31.8" r="12.4" fill="#989898"/><circle cx="-155.8" cy="-31.8" r="9.7" fill="#171717"/><circle cx="-155.8" cy="-31.8" r="6" fill="none" stroke="#3a3a3a" stroke-width="1.6"/><circle cx="-155.8" cy="-31.8" r="1.4" fill="#444"/>
<circle cx="-114.3" cy="-41.5" r="12.4" fill="#989898"/><circle cx="-114.3" cy="-41.5" r="9.7" fill="#171717"/><circle cx="-114.3" cy="-41.5" r="6" fill="none" stroke="#3a3a3a" stroke-width="1.6"/><circle cx="-114.3" cy="-41.5" r="1.4" fill="#444"/>
<circle cx="-83.8" cy="-37" r="12.4" fill="#989898"/><circle cx="-83.8" cy="-37" r="9.7" fill="#171717"/><circle cx="-83.8" cy="-37" r="6" fill="none" stroke="#3a3a3a" stroke-width="1.6"/><circle cx="-83.8" cy="-37" r="1.4" fill="#444"/>
<circle cx="-53.3" cy="-41" r="12.4" fill="#989898"/><circle cx="-53.3" cy="-41" r="9.7" fill="#171717"/><circle cx="-53.3" cy="-41" r="6" fill="none" stroke="#3a3a3a" stroke-width="1.6"/><circle cx="-53.3" cy="-41" r="1.4" fill="#444"/>
<circle cx="-187.9" cy="0" r="12.4" fill="#989898"/><circle cx="-187.9" cy="0" r="9.7" fill="#171717"/><circle cx="-187.9" cy="0" r="6" fill="none" stroke="#3a3a3a" stroke-width="1.6"/><circle cx="-187.9" cy="0" r="1.4" fill="#444"/>
<circle cx="-125.3" cy="0" r="12.4" fill="#989898"/><circle cx="-125.3" cy="0" r="9.7" fill="#171717"/><circle cx="-125.3" cy="0" r="6" fill="none" stroke="#3a3a3a" stroke-width="1.6"/><circle cx="-125.3" cy="0" r="1.4" fill="#444"/>
<circle cx="-77.3" cy="0" r="12.4" fill="#989898"/><circle cx="-77.3" cy="0" r="9.7" fill="#171717"/><circle cx="-77.3" cy="0" r="6" fill="none" stroke="#3a3a3a" stroke-width="1.6"/><circle cx="-77.3" cy="0" r="1.4" fill="#444"/>
<circle cx="-41.7" cy="0" r="12.4" fill="#989898"/><circle cx="-41.7" cy="0" r="9.7" fill="#171717"/><circle cx="-41.7" cy="0" r="6" fill="none" stroke="#3a3a3a" stroke-width="1.6"/><circle cx="-41.7" cy="0" r="1.4" fill="#444"/>
<circle cx="-199.3" cy="42.5" r="12.4" fill="#989898"/><circle cx="-199.3" cy="42.5" r="9.7" fill="#171717"/><circle cx="-199.3" cy="42.5" r="6" fill="none" stroke="#3a3a3a" stroke-width="1.6"/><circle cx="-199.3" cy="42.5" r="1.4" fill="#444"/>
<circle cx="-156.3" cy="32.4" r="12.4" fill="#989898"/><circle cx="-156.3" cy="32.4" r="9.7" fill="#171717"/><circle cx="-156.3" cy="32.4" r="6" fill="none" stroke="#3a3a3a" stroke-width="1.6"/><circle cx="-156.3" cy="32.4" r="1.4" fill="#444"/>
<circle cx="-114.3" cy="41.5" r="12.4" fill="#989898"/><circle cx="-114.3" cy="41.5" r="9.7" fill="#171717"/><circle cx="-114.3" cy="41.5" r="6" fill="none" stroke="#3a3a3a" stroke-width="1.6"/><circle cx="-114.3" cy="41.5" r="1.4" fill="#444"/>
<circle cx="-83.8" cy="37" r="12.4" fill="#989898"/><circle cx="-83.8" cy="37" r="9.7" fill="#171717"/><circle cx="-83.8" cy="37" r="6" fill="none" stroke="#3a3a3a" stroke-width="1.6"/><circle cx="-83.8" cy="37" r="1.4" fill="#444"/>
<circle cx="-53.3" cy="41.5" r="12.4" fill="#989898"/><circle cx="-53.3" cy="41.5" r="9.7" fill="#171717"/><circle cx="-53.3" cy="41.5" r="6" fill="none" stroke="#3a3a3a" stroke-width="1.6"/><circle cx="-53.3" cy="41.5" r="1.4" fill="#444"/></g>
<g transform="scale(-1,1)"><circle cx="-199.3" cy="-42" r="12.4" fill="#989898"/><circle cx="-199.3" cy="-42" r="9.7" fill="#171717"/><circle cx="-199.3" cy="-42" r="6" fill="none" stroke="#3a3a3a" stroke-width="1.6"/><circle cx="-199.3" cy="-42" r="1.4" fill="#444"/>
<circle cx="-155.8" cy="-31.8" r="12.4" fill="#989898"/><circle cx="-155.8" cy="-31.8" r="9.7" fill="#171717"/><circle cx="-155.8" cy="-31.8" r="6" fill="none" stroke="#3a3a3a" stroke-width="1.6"/><circle cx="-155.8" cy="-31.8" r="1.4" fill="#444"/>
<circle cx="-114.3" cy="-41.5" r="12.4" fill="#989898"/><circle cx="-114.3" cy="-41.5" r="9.7" fill="#171717"/><circle cx="-114.3" cy="-41.5" r="6" fill="none" stroke="#3a3a3a" stroke-width="1.6"/><circle cx="-114.3" cy="-41.5" r="1.4" fill="#444"/>
<circle cx="-83.8" cy="-37" r="12.4" fill="#989898"/><circle cx="-83.8" cy="-37" r="9.7" fill="#171717"/><circle cx="-83.8" cy="-37" r="6" fill="none" stroke="#3a3a3a" stroke-width="1.6"/><circle cx="-83.8" cy="-37" r="1.4" fill="#444"/>
<circle cx="-53.3" cy="-41" r="12.4" fill="#989898"/><circle cx="-53.3" cy="-41" r="9.7" fill="#171717"/><circle cx="-53.3" cy="-41" r="6" fill="none" stroke="#3a3a3a" stroke-width="1.6"/><circle cx="-53.3" cy="-41" r="1.4" fill="#444"/>
<circle cx="-187.9" cy="0" r="12.4" fill="#989898"/><circle cx="-187.9" cy="0" r="9.7" fill="#171717"/><circle cx="-187.9" cy="0" r="6" fill="none" stroke="#3a3a3a" stroke-width="1.6"/><circle cx="-187.9" cy="0" r="1.4" fill="#444"/>
<circle cx="-125.3" cy="0" r="12.4" fill="#989898"/><circle cx="-125.3" cy="0" r="9.7" fill="#171717"/><circle cx="-125.3" cy="0" r="6" fill="none" stroke="#3a3a3a" stroke-width="1.6"/><circle cx="-125.3" cy="0" r="1.4" fill="#444"/>
<circle cx="-77.3" cy="0" r="12.4" fill="#989898"/><circle cx="-77.3" cy="0" r="9.7" fill="#171717"/><circle cx="-77.3" cy="0" r="6" fill="none" stroke="#3a3a3a" stroke-width="1.6"/><circle cx="-77.3" cy="0" r="1.4" fill="#444"/>
<circle cx="-41.7" cy="0" r="12.4" fill="#989898"/><circle cx="-41.7" cy="0" r="9.7" fill="#171717"/><circle cx="-41.7" cy="0" r="6" fill="none" stroke="#3a3a3a" stroke-width="1.6"/><circle cx="-41.7" cy="0" r="1.4" fill="#444"/>
<circle cx="-199.3" cy="42.5" r="12.4" fill="#989898"/><circle cx="-199.3" cy="42.5" r="9.7" fill="#171717"/><circle cx="-199.3" cy="42.5" r="6" fill="none" stroke="#3a3a3a" stroke-width="1.6"/><circle cx="-199.3" cy="42.5" r="1.4" fill="#444"/>
<circle cx="-156.3" cy="32.4" r="12.4" fill="#989898"/><circle cx="-156.3" cy="32.4" r="9.7" fill="#171717"/><circle cx="-156.3" cy="32.4" r="6" fill="none" stroke="#3a3a3a" stroke-width="1.6"/><circle cx="-156.3" cy="32.4" r="1.4" fill="#444"/>
<circle cx="-114.3" cy="41.5" r="12.4" fill="#989898"/><circle cx="-114.3" cy="41.5" r="9.7" fill="#171717"/><circle cx="-114.3" cy="41.5" r="6" fill="none" stroke="#3a3a3a" stroke-width="1.6"/><circle cx="-114.3" cy="41.5" r="1.4" fill="#444"/>
<circle cx="-83.8" cy="37" r="12.4" fill="#989898"/><circle cx="-83.8" cy="37" r="9.7" fill="#171717"/><circle cx="-83.8" cy="37" r="6" fill="none" stroke="#3a3a3a" stroke-width="1.6"/><circle cx="-83.8" cy="37" r="1.4" fill="#444"/>
<circle cx="-53.3" cy="41.5" r="12.4" fill="#989898"/><circle cx="-53.3" cy="41.5" r="9.7" fill="#171717"/><circle cx="-53.3" cy="41.5" r="6" fill="none" stroke="#3a3a3a" stroke-width="1.6"/><circle cx="-53.3" cy="41.5" r="1.4" fill="#444"/></g>
<circle cx="-53.3" cy="-41" r="12.2" fill="none" stroke="#eef222" stroke-width="6" stroke-opacity="0.3"/><circle cx="-53.3" cy="-41" r="11.8" fill="none" stroke="#eef222" stroke-width="3.6"/><circle cx="-125.3" cy="0" r="12.2" fill="none" stroke="#eef222" stroke-width="6" stroke-opacity="0.3"/><circle cx="-125.3" cy="0" r="11.8" fill="none" stroke="#eef222" stroke-width="3.6"/><circle cx="-41.7" cy="0" r="12.2" fill="none" stroke="#eef222" stroke-width="6" stroke-opacity="0.3"/><circle cx="-41.7" cy="0" r="11.8" fill="none" stroke="#eef222" stroke-width="3.6"/><circle cx="-53.3" cy="41.5" r="12.2" fill="none" stroke="#eef222" stroke-width="6" stroke-opacity="0.3"/><circle cx="-53.3" cy="41.5" r="11.8" fill="none" stroke="#eef222" stroke-width="3.6"/>
<g transform="scale(-1,1)"><circle cx="-53.3" cy="-41" r="12.2" fill="none" stroke="#eef222" stroke-width="6" stroke-opacity="0.3"/><circle cx="-53.3" cy="-41" r="11.8" fill="none" stroke="#eef222" stroke-width="3.6"/><circle cx="-125.3" cy="0" r="12.2" fill="none" stroke="#eef222" stroke-width="6" stroke-opacity="0.3"/><circle cx="-125.3" cy="0" r="11.8" fill="none" stroke="#eef222" stroke-width="3.6"/><circle cx="-41.7" cy="0" r="12.2" fill="none" stroke="#eef222" stroke-width="6" stroke-opacity="0.3"/><circle cx="-41.7" cy="0" r="11.8" fill="none" stroke="#eef222" stroke-width="3.6"/><circle cx="-53.3" cy="41.5" r="12.2" fill="none" stroke="#eef222" stroke-width="6" stroke-opacity="0.3"/><circle cx="-53.3" cy="41.5" r="11.8" fill="none" stroke="#eef222" stroke-width="3.6"/></g>
<rect x="-28.8" y="-38.8" width="4.6" height="4.6" fill="#8a8a8a"/>
<rect x="-28.8" y="-28.2" width="4.6" height="4.6" fill="#eef222"/>
<line x1="-22" y1="-36.4" x2="-8" y2="-36.4" stroke="#666" stroke-width="1"/>
<line x1="-22" y1="-25.9" x2="-6" y2="-25.9" stroke="#666" stroke-width="1"/>
<rect x="7.4" y="-38.8" width="4.6" height="4.6" fill="#8a8a8a"/>
<line x1="14" y1="-36.4" x2="24" y2="-36.4" stroke="#666" stroke-width="1"/></g>
<g transform="translate(763,841.2)"><g><path d="M0,-43.8 L-26,-64.2 Q-30,-66.6 -35,-66.4 L-207.5,-62.4 Q-215,-62.2 -218,-56.7 L-229.7,-33.7 Q-230.6,-31.7 -230.6,-29.2 L-230.6,28.8 Q-230.6,31.3 -229.7,33.3 L-217.5,57.3 Q-214.5,62.2 -210,62.2 L-35,66.8 Q-30,67.0 -26,64.4 L0,44.2 Z" fill="url(#rimg)"/>
<path d="M0,-38.7 L-30,-56.7 L-205,-52.7 Q-214,-52.2 -215,-46.2 Q-218.5,-0.2 -215,45.8 Q-214,51.8 -205,52.3 L-30,57.3 L0,38.8 Z" fill="url(#innerg)" stroke="#686868" stroke-width="1"/>
<path d="M-199.3,-50 L-48.3,-49 M-199.3,50.5 L-48.3,49" stroke="#737373" stroke-width="1.3" fill="none"/>
<path d="M-114.3,-41.5L-83.8,37.0M-114.3,41.5L-83.8,-37.0M-83.8,-37.0L-53.3,41.5M-83.8,37.0L-53.3,-41.0M-53.3,-41.0L-53.3,41.5M-187.9,0L-174.7,0M-137.8,0L-41.7,0" stroke="#868686" stroke-width="4.8" fill="none"/>
<rect x="-230.6" y="-8" width="8.5" height="15" rx="1.5" fill="#2e2e2e"/><rect x="-225.8" y="-2.5" width="2.2" height="5" fill="#ddd"/></g>
<g transform="scale(-1,1)"><path d="M0,-43.8 L-26,-64.2 Q-30,-66.6 -35,-66.4 L-207.5,-62.4 Q-215,-62.2 -218,-56.7 L-229.7,-33.7 Q-230.6,-31.7 -230.6,-29.2 L-230.6,28.8 Q-230.6,31.3 -229.7,33.3 L-217.5,57.3 Q-214.5,62.2 -210,62.2 L-35,66.8 Q-30,67.0 -26,64.4 L0,44.2 Z" fill="url(#rimg)"/>
<path d="M0,-38.7 L-30,-56.7 L-205,-52.7 Q-214,-52.2 -215,-46.2 Q-218.5,-0.2 -215,45.8 Q-214,51.8 -205,52.3 L-30,57.3 L0,38.8 Z" fill="url(#innerg)" stroke="#686868" stroke-width="1"/>
<path d="M-199.3,-50 L-48.3,-49 M-199.3,50.5 L-48.3,49" stroke="#737373" stroke-width="1.3" fill="none"/>
<path d="M-114.3,-41.5L-83.8,37.0M-114.3,41.5L-83.8,-37.0M-83.8,-37.0L-53.3,41.5M-83.8,37.0L-53.3,-41.0M-53.3,-41.0L-53.3,41.5M-187.9,0L-174.7,0M-137.8,0L-41.7,0" stroke="#868686" stroke-width="4.8" fill="none"/>
<rect x="-230.6" y="-8" width="8.5" height="15" rx="1.5" fill="#2e2e2e"/><rect x="-225.8" y="-2.5" width="2.2" height="5" fill="#ddd"/></g>
<line x1="0" y1="-44" x2="0" y2="44" stroke="#2f2f2f" stroke-width="1"/>
<path d="M-199.8,-31.2L-199.8,30.8M-190.4,-31.2L-178.4,-12.0M-194.0,30.0L-179.6,12.0M-165.2,-10.8L-172.4,-2.4L-165.2,9.6M-148.4,-21.6L-130.4,13.2M-127.0,20.8L-121.0,29.8M-150.8,19.2L-129.2,-18.0M-124.0,-27.6L-121.0,-33.2M-116.4,-21.6L-115.2,-29.2M-115.4,23.2L-114.4,15.8M-114.2,-13.2L-114.2,8.4" stroke="#2fdc9a" stroke-width="5.2" fill="none" stroke-linejoin="miter" stroke-linecap="butt"/>
<g transform="scale(-1,1)"><path d="M-199.8,-31.2L-199.8,30.8M-190.4,-31.2L-178.4,-12.0M-194.0,30.0L-179.6,12.0M-165.2,-10.8L-172.4,-2.4L-165.2,9.6M-148.4,-21.6L-130.4,13.2M-127.0,20.8L-121.0,29.8M-150.8,19.2L-129.2,-18.0M-124.0,-27.6L-121.0,-33.2M-116.4,-21.6L-115.2,-29.2M-115.4,23.2L-114.4,15.8M-114.2,-13.2L-114.2,8.4" stroke="#2fdc9a" stroke-width="5.2" fill="none" stroke-linejoin="miter" stroke-linecap="butt"/></g>
<g><circle cx="-199.3" cy="-42" r="12.4" fill="#989898"/><circle cx="-199.3" cy="-42" r="9.7" fill="#171717"/><circle cx="-199.3" cy="-42" r="6" fill="none" stroke="#3a3a3a" stroke-width="1.6"/><circle cx="-199.3" cy="-42" r="1.4" fill="#444"/>
<circle cx="-155.8" cy="-31.8" r="12.4" fill="#989898"/><circle cx="-155.8" cy="-31.8" r="9.7" fill="#171717"/><circle cx="-155.8" cy="-31.8" r="6" fill="none" stroke="#3a3a3a" stroke-width="1.6"/><circle cx="-155.8" cy="-31.8" r="1.4" fill="#444"/>
<circle cx="-114.3" cy="-41.5" r="12.4" fill="#989898"/><circle cx="-114.3" cy="-41.5" r="9.7" fill="#171717"/><circle cx="-114.3" cy="-41.5" r="6" fill="none" stroke="#3a3a3a" stroke-width="1.6"/><circle cx="-114.3" cy="-41.5" r="1.4" fill="#444"/>
<circle cx="-83.8" cy="-37" r="12.4" fill="#989898"/><circle cx="-83.8" cy="-37" r="9.7" fill="#171717"/><circle cx="-83.8" cy="-37" r="6" fill="none" stroke="#3a3a3a" stroke-width="1.6"/><circle cx="-83.8" cy="-37" r="1.4" fill="#444"/>
<circle cx="-53.3" cy="-41" r="12.4" fill="#989898"/><circle cx="-53.3" cy="-41" r="9.7" fill="#171717"/><circle cx="-53.3" cy="-41" r="6" fill="none" stroke="#3a3a3a" stroke-width="1.6"/><circle cx="-53.3" cy="-41" r="1.4" fill="#444"/>
<circle cx="-187.9" cy="0" r="12.4" fill="#989898"/><circle cx="-187.9" cy="0" r="9.7" fill="#171717"/><circle cx="-187.9" cy="0" r="6" fill="none" stroke="#3a3a3a" stroke-width="1.6"/><circle cx="-187.9" cy="0" r="1.4" fill="#444"/>
<circle cx="-125.3" cy="0" r="12.4" fill="#989898"/><circle cx="-125.3" cy="0" r="9.7" fill="#171717"/><circle cx="-125.3" cy="0" r="6" fill="none" stroke="#3a3a3a" stroke-width="1.6"/><circle cx="-125.3" cy="0" r="1.4" fill="#444"/>
<circle cx="-77.3" cy="0" r="12.4" fill="#989898"/><circle cx="-77.3" cy="0" r="9.7" fill="#171717"/><circle cx="-77.3" cy="0" r="6" fill="none" stroke="#3a3a3a" stroke-width="1.6"/><circle cx="-77.3" cy="0" r="1.4" fill="#444"/>
<circle cx="-41.7" cy="0" r="12.4" fill="#989898"/><circle cx="-41.7" cy="0" r="9.7" fill="#171717"/><circle cx="-41.7" cy="0" r="6" fill="none" stroke="#3a3a3a" stroke-width="1.6"/><circle cx="-41.7" cy="0" r="1.4" fill="#444"/>
<circle cx="-199.3" cy="42.5" r="12.4" fill="#989898"/><circle cx="-199.3" cy="42.5" r="9.7" fill="#171717"/><circle cx="-199.3" cy="42.5" r="6" fill="none" stroke="#3a3a3a" stroke-width="1.6"/><circle cx="-199.3" cy="42.5" r="1.4" fill="#444"/>
<circle cx="-156.3" cy="32.4" r="12.4" fill="#989898"/><circle cx="-156.3" cy="32.4" r="9.7" fill="#171717"/><circle cx="-156.3" cy="32.4" r="6" fill="none" stroke="#3a3a3a" stroke-width="1.6"/><circle cx="-156.3" cy="32.4" r="1.4" fill="#444"/>
<circle cx="-114.3" cy="41.5" r="12.4" fill="#989898"/><circle cx="-114.3" cy="41.5" r="9.7" fill="#171717"/><circle cx="-114.3" cy="41.5" r="6" fill="none" stroke="#3a3a3a" stroke-width="1.6"/><circle cx="-114.3" cy="41.5" r="1.4" fill="#444"/>
<circle cx="-83.8" cy="37" r="12.4" fill="#989898"/><circle cx="-83.8" cy="37" r="9.7" fill="#171717"/><circle cx="-83.8" cy="37" r="6" fill="none" stroke="#3a3a3a" stroke-width="1.6"/><circle cx="-83.8" cy="37" r="1.4" fill="#444"/>
<circle cx="-53.3" cy="41.5" r="12.4" fill="#989898"/><circle cx="-53.3" cy="41.5" r="9.7" fill="#171717"/><circle cx="-53.3" cy="41.5" r="6" fill="none" stroke="#3a3a3a" stroke-width="1.6"/><circle cx="-53.3" cy="41.5" r="1.4" fill="#444"/></g>
<g transform="scale(-1,1)"><circle cx="-199.3" cy="-42" r="12.4" fill="#989898"/><circle cx="-199.3" cy="-42" r="9.7" fill="#171717"/><circle cx="-199.3" cy="-42" r="6" fill="none" stroke="#3a3a3a" stroke-width="1.6"/><circle cx="-199.3" cy="-42" r="1.4" fill="#444"/>
<circle cx="-155.8" cy="-31.8" r="12.4" fill="#989898"/><circle cx="-155.8" cy="-31.8" r="9.7" fill="#171717"/><circle cx="-155.8" cy="-31.8" r="6" fill="none" stroke="#3a3a3a" stroke-width="1.6"/><circle cx="-155.8" cy="-31.8" r="1.4" fill="#444"/>
<circle cx="-114.3" cy="-41.5" r="12.4" fill="#989898"/><circle cx="-114.3" cy="-41.5" r="9.7" fill="#171717"/><circle cx="-114.3" cy="-41.5" r="6" fill="none" stroke="#3a3a3a" stroke-width="1.6"/><circle cx="-114.3" cy="-41.5" r="1.4" fill="#444"/>
<circle cx="-83.8" cy="-37" r="12.4" fill="#989898"/><circle cx="-83.8" cy="-37" r="9.7" fill="#171717"/><circle cx="-83.8" cy="-37" r="6" fill="none" stroke="#3a3a3a" stroke-width="1.6"/><circle cx="-83.8" cy="-37" r="1.4" fill="#444"/>
<circle cx="-53.3" cy="-41" r="12.4" fill="#989898"/><circle cx="-53.3" cy="-41" r="9.7" fill="#171717"/><circle cx="-53.3" cy="-41" r="6" fill="none" stroke="#3a3a3a" stroke-width="1.6"/><circle cx="-53.3" cy="-41" r="1.4" fill="#444"/>
<circle cx="-187.9" cy="0" r="12.4" fill="#989898"/><circle cx="-187.9" cy="0" r="9.7" fill="#171717"/><circle cx="-187.9" cy="0" r="6" fill="none" stroke="#3a3a3a" stroke-width="1.6"/><circle cx="-187.9" cy="0" r="1.4" fill="#444"/>
<circle cx="-125.3" cy="0" r="12.4" fill="#989898"/><circle cx="-125.3" cy="0" r="9.7" fill="#171717"/><circle cx="-125.3" cy="0" r="6" fill="none" stroke="#3a3a3a" stroke-width="1.6"/><circle cx="-125.3" cy="0" r="1.4" fill="#444"/>
<circle cx="-77.3" cy="0" r="12.4" fill="#989898"/><circle cx="-77.3" cy="0" r="9.7" fill="#171717"/><circle cx="-77.3" cy="0" r="6" fill="none" stroke="#3a3a3a" stroke-width="1.6"/><circle cx="-77.3" cy="0" r="1.4" fill="#444"/>
<circle cx="-41.7" cy="0" r="12.4" fill="#989898"/><circle cx="-41.7" cy="0" r="9.7" fill="#171717"/><circle cx="-41.7" cy="0" r="6" fill="none" stroke="#3a3a3a" stroke-width="1.6"/><circle cx="-41.7" cy="0" r="1.4" fill="#444"/>
<circle cx="-199.3" cy="42.5" r="12.4" fill="#989898"/><circle cx="-199.3" cy="42.5" r="9.7" fill="#171717"/><circle cx="-199.3" cy="42.5" r="6" fill="none" stroke="#3a3a3a" stroke-width="1.6"/><circle cx="-199.3" cy="42.5" r="1.4" fill="#444"/>
<circle cx="-156.3" cy="32.4" r="12.4" fill="#989898"/><circle cx="-156.3" cy="32.4" r="9.7" fill="#171717"/><circle cx="-156.3" cy="32.4" r="6" fill="none" stroke="#3a3a3a" stroke-width="1.6"/><circle cx="-156.3" cy="32.4" r="1.4" fill="#444"/>
<circle cx="-114.3" cy="41.5" r="12.4" fill="#989898"/><circle cx="-114.3" cy="41.5" r="9.7" fill="#171717"/><circle cx="-114.3" cy="41.5" r="6" fill="none" stroke="#3a3a3a" stroke-width="1.6"/><circle cx="-114.3" cy="41.5" r="1.4" fill="#444"/>
<circle cx="-83.8" cy="37" r="12.4" fill="#989898"/><circle cx="-83.8" cy="37" r="9.7" fill="#171717"/><circle cx="-83.8" cy="37" r="6" fill="none" stroke="#3a3a3a" stroke-width="1.6"/><circle cx="-83.8" cy="37" r="1.4" fill="#444"/>
<circle cx="-53.3" cy="41.5" r="12.4" fill="#989898"/><circle cx="-53.3" cy="41.5" r="9.7" fill="#171717"/><circle cx="-53.3" cy="41.5" r="6" fill="none" stroke="#3a3a3a" stroke-width="1.6"/><circle cx="-53.3" cy="41.5" r="1.4" fill="#444"/></g>
<circle cx="-199.3" cy="-42" r="12.2" fill="none" stroke="#2fdc9a" stroke-width="6" stroke-opacity="0.3"/><circle cx="-199.3" cy="-42" r="11.8" fill="none" stroke="#2fdc9a" stroke-width="3.6"/><circle cx="-155.8" cy="-31.8" r="12.2" fill="none" stroke="#2fdc9a" stroke-width="6" stroke-opacity="0.3"/><circle cx="-155.8" cy="-31.8" r="11.8" fill="none" stroke="#2fdc9a" stroke-width="3.6"/><circle cx="-114.3" cy="-41.5" r="12.2" fill="none" stroke="#2fdc9a" stroke-width="6" stroke-opacity="0.3"/><circle cx="-114.3" cy="-41.5" r="11.8" fill="none" stroke="#2fdc9a" stroke-width="3.6"/><circle cx="-199.3" cy="42.5" r="12.2" fill="none" stroke="#2fdc9a" stroke-width="6" stroke-opacity="0.3"/><circle cx="-199.3" cy="42.5" r="11.8" fill="none" stroke="#2fdc9a" stroke-width="3.6"/><circle cx="-156.3" cy="32.4" r="12.2" fill="none" stroke="#2fdc9a" stroke-width="6" stroke-opacity="0.3"/><circle cx="-156.3" cy="32.4" r="11.8" fill="none" stroke="#2fdc9a" stroke-width="3.6"/><circle cx="-114.3" cy="41.5" r="12.2" fill="none" stroke="#2fdc9a" stroke-width="6" stroke-opacity="0.3"/><circle cx="-114.3" cy="41.5" r="11.8" fill="none" stroke="#2fdc9a" stroke-width="3.6"/>
<g transform="scale(-1,1)"><circle cx="-199.3" cy="-42" r="12.2" fill="none" stroke="#2fdc9a" stroke-width="6" stroke-opacity="0.3"/><circle cx="-199.3" cy="-42" r="11.8" fill="none" stroke="#2fdc9a" stroke-width="3.6"/><circle cx="-155.8" cy="-31.8" r="12.2" fill="none" stroke="#2fdc9a" stroke-width="6" stroke-opacity="0.3"/><circle cx="-155.8" cy="-31.8" r="11.8" fill="none" stroke="#2fdc9a" stroke-width="3.6"/><circle cx="-114.3" cy="-41.5" r="12.2" fill="none" stroke="#2fdc9a" stroke-width="6" stroke-opacity="0.3"/><circle cx="-114.3" cy="-41.5" r="11.8" fill="none" stroke="#2fdc9a" stroke-width="3.6"/><circle cx="-199.3" cy="42.5" r="12.2" fill="none" stroke="#2fdc9a" stroke-width="6" stroke-opacity="0.3"/><circle cx="-199.3" cy="42.5" r="11.8" fill="none" stroke="#2fdc9a" stroke-width="3.6"/><circle cx="-156.3" cy="32.4" r="12.2" fill="none" stroke="#2fdc9a" stroke-width="6" stroke-opacity="0.3"/><circle cx="-156.3" cy="32.4" r="11.8" fill="none" stroke="#2fdc9a" stroke-width="3.6"/><circle cx="-114.3" cy="41.5" r="12.2" fill="none" stroke="#2fdc9a" stroke-width="6" stroke-opacity="0.3"/><circle cx="-114.3" cy="41.5" r="11.8" fill="none" stroke="#2fdc9a" stroke-width="3.6"/></g>
<rect x="-28.8" y="-38.8" width="4.6" height="4.6" fill="#2fdc9a"/>
<rect x="-28.8" y="-28.2" width="4.6" height="4.6" fill="#8a8a8a"/>
<line x1="-22" y1="-36.4" x2="-8" y2="-36.4" stroke="#666" stroke-width="1"/>
<line x1="-22" y1="-25.9" x2="-6" y2="-25.9" stroke="#666" stroke-width="1"/>
<rect x="7.4" y="-38.8" width="4.6" height="4.6" fill="#8a8a8a"/>
<line x1="14" y1="-36.4" x2="24" y2="-36.4" stroke="#666" stroke-width="1"/></g>
</svg>
</body></html>
